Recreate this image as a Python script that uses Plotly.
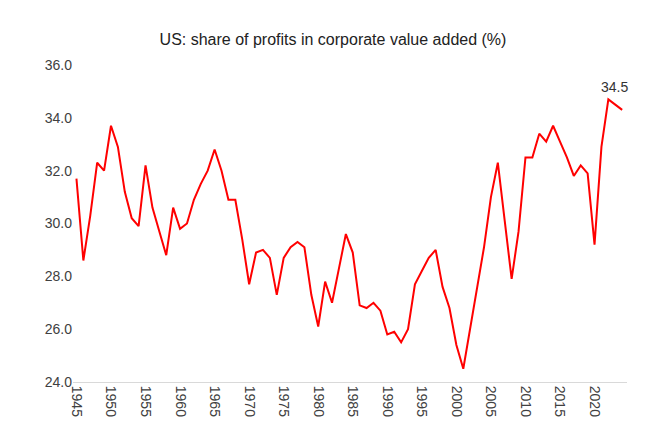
import plotly.graph_objects as go

years = list(range(1945, 2025))
profit_share = [
    31.7, 28.6, 30.3, 32.3, 32.0, 33.7, 32.9, 31.2, 30.2, 29.9,
    32.2, 30.6, 29.7, 28.8, 30.6, 29.8, 30.0, 30.9, 31.5, 32.0,
    32.8, 32.0, 30.9, 30.9, 29.4, 27.7, 28.9, 29.0, 28.7, 27.3,
    28.7, 29.1, 29.3, 29.1, 27.3, 26.1, 27.8, 27.0, 28.3, 29.6,
    28.9, 26.9, 26.8, 27.0, 26.7, 25.8, 25.9, 25.5, 26.0, 27.7,
    28.2, 28.7, 29.0, 27.6, 26.8, 25.4, 24.5, 26.0, 27.6, 29.1,
    31.0, 32.3, 30.1, 27.9, 29.7, 32.5, 32.5, 33.4, 33.1, 33.7,
    33.1, 32.5, 31.8, 32.2, 31.9, 29.2, 32.9, 34.7, 34.5, 34.3,
]
label_year = 2022
label_text = "34.5"

fig = go.Figure(go.Scatter(x=years, y=profit_share, mode="lines",
                           line=dict(color="#ff0000", width=2)))

fig.add_annotation(x=label_year, y=profit_share[years.index(label_year)],
                   text=label_text, showarrow=False, yshift=12, xshift=6,
                   font=dict(size=14, color="#333333"))

fig.update_layout(
    width=650, height=438,
    paper_bgcolor="white", plot_bgcolor="white",
    font=dict(family="Liberation Sans, Arial", color="#404040"),
    title=dict(text="US: share of profits in corporate value added (%)",
               x=0.5, y=0.94, xanchor="center", font=dict(size=16, color="#222222")),
    margin=dict(l=65, r=31, t=57, b=64),
    showlegend=False,
)
fig.update_xaxes(range=[1944.5, 2024.7], tickvals=list(range(1945, 2025, 5)),
                 tickangle=90, showgrid=False, showline=True, linecolor="#d9d9d9",
                 linewidth=1, tickfont=dict(size=14, color="#404040"), ticks="")
fig.update_yaxes(range=[24, 36], dtick=2, tickformat=".1f", showgrid=False,
                 zeroline=False, tickfont=dict(size=14, color="#404040"))

fig.write_html("out.html")
